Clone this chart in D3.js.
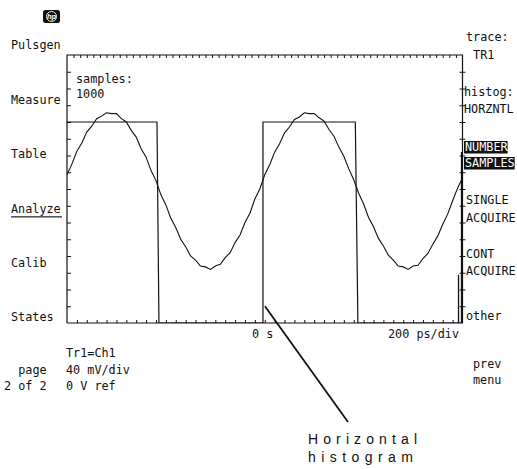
<!DOCTYPE html>
<html><head><meta charset="utf-8">
<script src="https://cdn.jsdelivr.net/npm/d3@7"></script>
<style>
body{margin:0;background:#fff;}
svg text{font-family:"DejaVu Sans Mono",monospace;font-size:11.8px;fill:#111;}
</style></head>
<body><svg id="c" width="517" height="469"></svg>
<script>
// ---- data (time in ps, voltage in mV) ----
const sampleTimes = d3.range(-1000, 1001, 25);
const sineV = [17,30,45,55,68,75,84,87,91,90,
  90,84,80,70,62,48,38,22,10,-7,
  -19,-35,-46,-60,-69,-80,-85,-92,-93,-96,
  -92,-90,-82,-76,-64,-55,-40,-29,-12,0,
  17,29,44,54,67,74,83,86,91,90,
  90,85,81,71,63,50,39,24,11,-5,
  -18,-34,-45,-59,-68,-79,-85,-92,-93,-96,
  -92,-91,-83,-77,-66,-56,-42,-30,-14,1,13];
const squareT = [-1000,-545,-535,-9,-9,458,471,1000];
const squareV = [80,80,-160,-160,80,80,-160,-160];
const histT = [980, 995];
const histCount = [180, 638];   // samples per time bin
const leftMenu = ["Pulsgen","Measure","Table","Analyze","Calib","States"];
const rightMenu = [["trace:"," TR1"],["histog:","HORZNTL"],["NUMBER","SAMPLES"],["SINGLE","ACQUIRE"],["CONT","ACQUIRE"],["other"]];
const sampleLabel = ["samples:","1000"];
const xLabels = ["0 s","200 ps/div"];
const bottomInfo = [["","Tr1=Ch1"],["  page","40 mV/div"],["2 of 2","0 V ref"]];
const annotation = ["Horizontal","histogram"];

// ---- layout ----
const L=67, R=462.5, T=55, B=323;
const svg = d3.select("#c");
const x = d3.scaleLinear().domain([-1000,1000]).range([L,R]);
const y = d3.scaleLinear().domain([-160,160]).range([B,T]);
const hy = d3.scaleLinear().domain([0,1000]).range([B,T]);

svg.append("clipPath").attr("id","clip").append("rect")
  .attr("x",L).attr("y",T).attr("width",R-L).attr("height",B-T);

// axes / frame
const stroke="#111";
const gTop = svg.append("g").attr("transform",`translate(0,${T})`)
  .call(d3.axisBottom(x).tickValues(d3.range(-1000+2000/60,1000,2000/60)).tickSize(3).tickFormat(""));
const gBot = svg.append("g").attr("transform",`translate(0,${B})`)
  .call(d3.axisTop(x).tickValues(d3.range(-950,1000,50)).tickSize(3).tickFormat(""));
const gLeft = svg.append("g").attr("transform",`translate(${L},0)`)
  .call(d3.axisRight(y).tickValues(d3.range(-140,160,20)).tickSize(4).tickFormat(""));
const gRight = svg.append("g").attr("transform",`translate(${R},0)`)
  .call(d3.axisRight(y).tickValues(d3.range(-140,160,20)).tickSize(3).tickFormat(""));
gRight.selectAll(".tick line").attr("x1",-3);
svg.selectAll(".domain").remove();
svg.selectAll(".tick line").attr("stroke",stroke);
svg.append("path").attr("d",`M${L},${B}V${T}H${R}V${B}H${L}`)
  .attr("fill","none").attr("stroke",stroke).attr("stroke-width",1.2);

const plot = svg.append("g").attr("clip-path","url(#clip)");
// square wave
plot.append("path").datum(squareT.map((t,i)=>[t,squareV[i]]))
  .attr("d",d3.line().x(d=>x(d[0])).y(d=>y(d[1])))
  .attr("fill","none").attr("stroke",stroke).attr("stroke-width",1.2);
// sine trace
plot.append("path").datum(sampleTimes.map((t,i)=>[t,sineV[i]]))
  .attr("d",d3.line().x(d=>x(d[0])).y(d=>y(d[1])))
  .attr("fill","none").attr("stroke",stroke).attr("stroke-width",1.1);
// histogram
svg.selectAll(".hist").data(histT).join("line")
  .attr("x1",d=>x(d)).attr("x2",d=>x(d))
  .attr("y1",B).attr("y2",(d,i)=>hy(histCount[i]))
  .attr("stroke",stroke).attr("stroke-width",1.3);

// left menu
const lb=[49,103.5,158,213,267,321];
leftMenu.forEach((s,i)=>{
  svg.append("text").attr("x",11).attr("y",lb[i]).text(s);
});
svg.append("rect").attr("x",11).attr("y",216).attr("width",51).attr("height",1.6).attr("fill","#555");

// right menu
const rb=[[41,59],[96,113],[151,167],[204,221.5],[258,275],[320]];
const rx=[466,464,465,466,466,466];
rightMenu.forEach((pair,i)=>{
  pair.forEach((s,j)=>{
    if(i===2){
      svg.append("rect").attr("x",rx[i]-1).attr("y",rb[i][j]-10).attr("width",s.length*7.1+1).attr("height",12.5).attr("fill","#111");
    }
    svg.append("text").attr("x",rx[i]).attr("y",rb[i][j])
      .style("white-space","pre").style("fill",i===2?"#fff":"#111").text(s);
  });
});
svg.append("text").attr("x",473).attr("y",368).text("prev");
svg.append("text").attr("x",473).attr("y",384).text("menu");

// sample count
svg.append("text").attr("x",76).attr("y",83).text(sampleLabel[0]);
svg.append("text").attr("x",76).attr("y",98).text(sampleLabel[1]);

// x labels
svg.append("text").attr("x",252).attr("y",338).style("white-space","pre").text(xLabels[0]);
svg.append("text").attr("x",388).attr("y",338).text(xLabels[1]);

// bottom info
const bb=[357,374,390];
bottomInfo.forEach((r,i)=>{
  svg.append("text").attr("x",4).attr("y",bb[i]).style("white-space","pre").text(r[0]);
  svg.append("text").attr("x",66).attr("y",bb[i]).style("white-space","pre").text(r[1]);
});

// hp logo
const logo=svg.append("g").attr("transform","translate(43,10)");
logo.append("rect").attr("width",17).attr("height",13).attr("rx",2.5).attr("fill","#111");
logo.append("circle").attr("cx",8.5).attr("cy",6.5).attr("r",5).attr("fill","none").attr("stroke","#fff").attr("stroke-width",0.9);
logo.append("text").attr("x",8.5).attr("y",9.3).attr("text-anchor","middle")
  .style("font-family","Liberation Sans").style("font-size","7.5px").style("font-style","italic").style("font-weight","bold").style("fill","#fff").text("hp");

// annotation
const ax0=x(1), ay0=y(-140);
svg.append("line").attr("x1",ax0).attr("y1",ay0).attr("x2",348).attr("y2",422)
  .attr("stroke","#111").attr("stroke-width",1.8);
annotation.forEach((s,i)=>{
  svg.append("text").attr("x",308).attr("y",[444,462][i])
    .attr("textLength",[109,105][i]).attr("lengthAdjust","spacing")
    .style("font-family","Liberation Sans, Arial").style("font-size","14px").text(s);
});
</script></body></html>
